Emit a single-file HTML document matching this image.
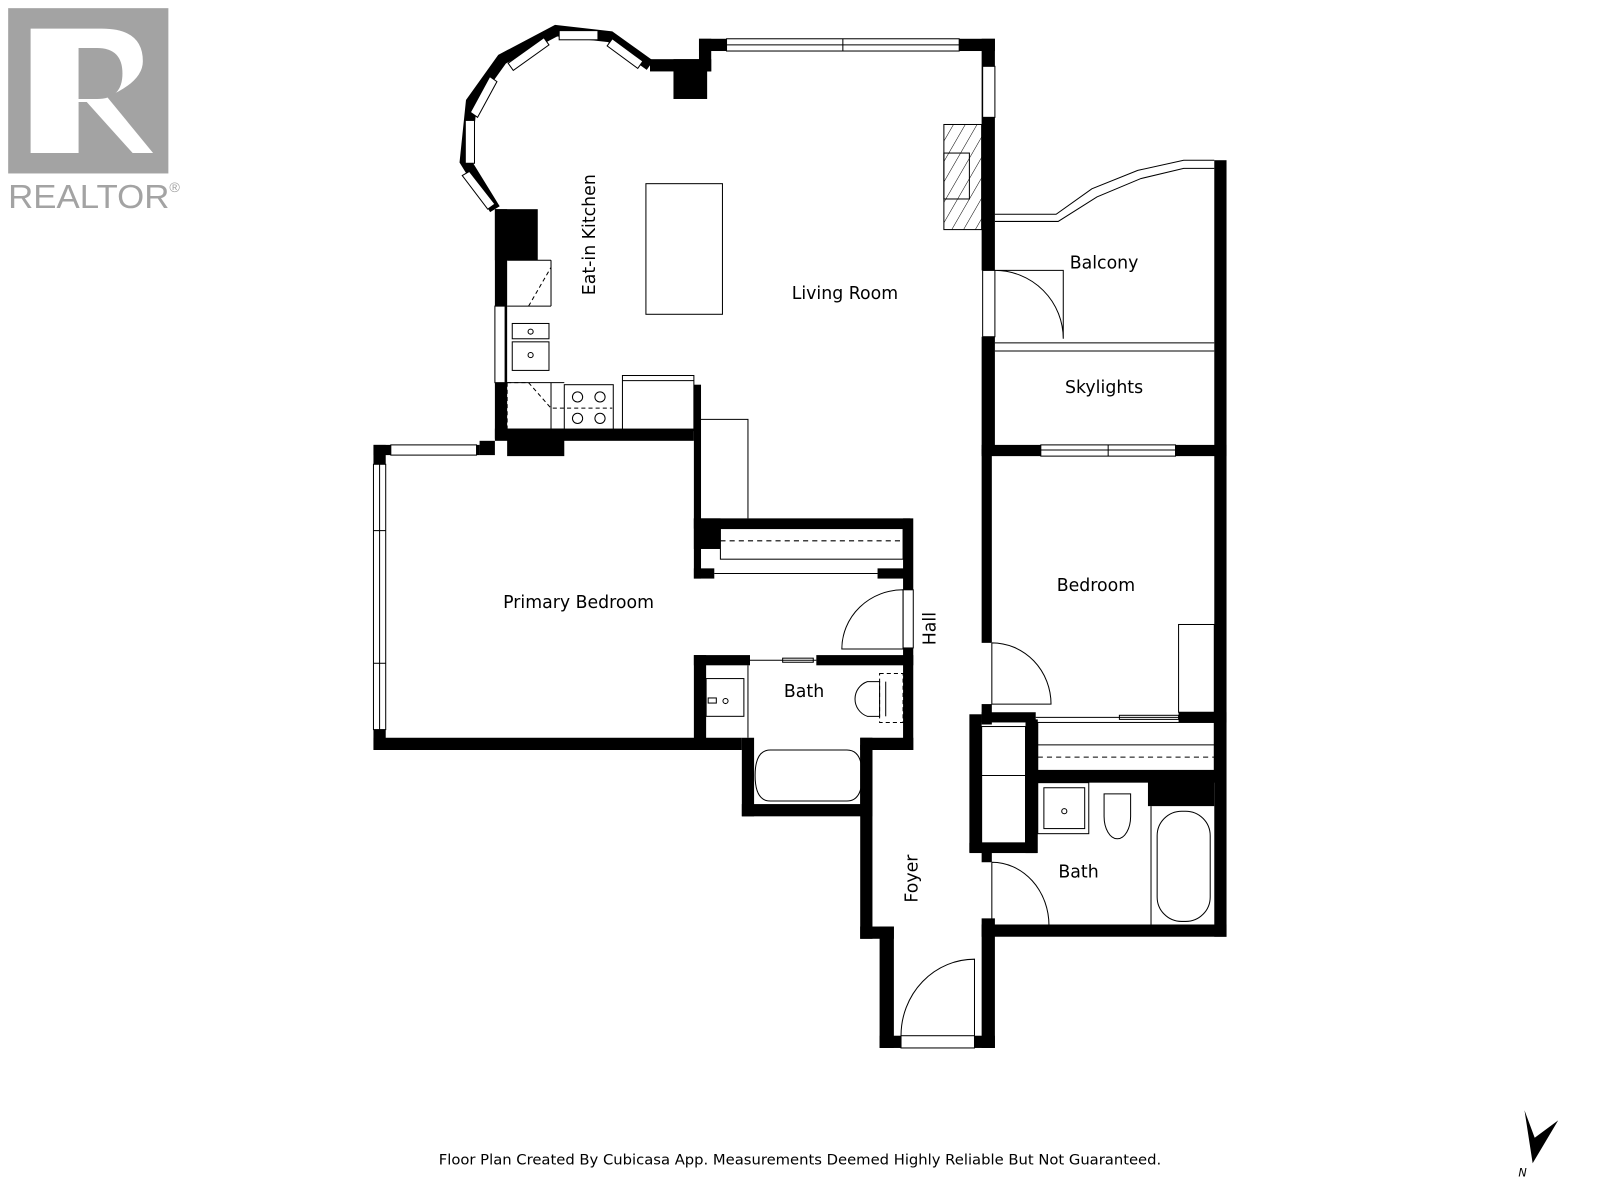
<!DOCTYPE html>
<html><head><meta charset="utf-8"><style>
html,body{margin:0;padding:0;background:#fff;width:1600px;height:1200px;overflow:hidden}
svg{display:block}
text{font-family:"DejaVu Sans","Liberation Sans",sans-serif;fill:#000}
</style></head><body>
<svg width="1600" height="1200" viewBox="0 0 1568 1176" xmlns="http://www.w3.org/2000/svg">
<defs>
<pattern id="h" width="10" height="10" patternUnits="userSpaceOnUse" patternTransform="rotate(30)">
<line x1="0" y1="0" x2="0" y2="10" stroke="#000" stroke-width="1"/></pattern>
</defs>
<rect x="8" y="8" width="157" height="162" fill="#a3a3a3"/>
<path d="M30 28 L30 150 L77 150 L77 100 L85 100 L130 150 L150 150 L105 95 Q140 80 140 60 Q140 28 100 28 Z" fill="#fff"/>
<path d="M77 47 L77 97 L95 97 Q120 97 120 72 Q120 47 95 47 Z" fill="#a3a3a3"/>
<text x="8" y="204" font-size="33" textLength="158" lengthAdjust="spacingAndGlyphs" style="fill:#a3a3a3;font-family:'Liberation Sans',sans-serif">REALTOR</text>
<text x="166" y="188" font-size="14" style="fill:#a3a3a3;font-family:'Liberation Sans',sans-serif">®</text>
<g fill="#000">
<rect x="685" y="38" width="290" height="12"/>
<rect x="685" y="38" width="12" height="32"/>
<rect x="637" y="58" width="60" height="12"/>
<rect x="660" y="58" width="33" height="39"/>
<rect x="962" y="38" width="13" height="227"/>
<rect x="962" y="330" width="13" height="115"/>
<rect x="485" y="205" width="12" height="225"/>
<rect x="485" y="205" width="42" height="50"/>
<rect x="485" y="420" width="195" height="12"/>
<rect x="497" y="420" width="56" height="27"/>
<rect x="680" y="377" width="7" height="190"/>
<rect x="366" y="436" width="12" height="299"/>
<rect x="366" y="436" width="104" height="10"/>
<rect x="470" y="432" width="15" height="14"/>
<rect x="366" y="723" width="361" height="12"/>
<rect x="680" y="508" width="212" height="10"/>
<rect x="680" y="508" width="26" height="30"/>
<rect x="680" y="557" width="20" height="10"/>
<rect x="860" y="557" width="32" height="10"/>
<rect x="885" y="508" width="10" height="70"/>
<rect x="680" y="642" width="12" height="91"/>
<rect x="680" y="642" width="55" height="10"/>
<rect x="800" y="642" width="95" height="10"/>
<rect x="885" y="635" width="10" height="100"/>
<rect x="727" y="723" width="12" height="77"/>
<rect x="727" y="788" width="123" height="12"/>
<rect x="843" y="723" width="52" height="12"/>
<rect x="843" y="723" width="12" height="77"/>
<rect x="843" y="730" width="12" height="190"/>
<rect x="843" y="908" width="33" height="12"/>
<rect x="862" y="908" width="14" height="119"/>
<rect x="862" y="1015" width="21" height="12"/>
<rect x="955" y="1015" width="20" height="12"/>
<rect x="962" y="900" width="13" height="127"/>
<rect x="962" y="440" width="10" height="190"/>
<rect x="962" y="690" width="10" height="20"/>
<rect x="1190" y="157" width="12" height="761"/>
<rect x="962" y="436" width="58" height="11"/>
<rect x="1152" y="436" width="50" height="11"/>
<rect x="962" y="698" width="53" height="10"/>
<rect x="1155" y="698" width="47" height="10"/>
<rect x="950" y="700" width="12" height="135"/>
<rect x="950" y="826" width="66" height="10"/>
<rect x="1005" y="705" width="12" height="131"/>
<rect x="1005" y="755" width="190" height="12"/>
<rect x="1125" y="765" width="65" height="25"/>
<rect x="962" y="835" width="10" height="10"/>
<rect x="962" y="906" width="240" height="12"/>
</g>
<polyline points="637,64 598,36 545,30 492,58 462,100 456,158 485,205" fill="none" stroke="#000" stroke-width="11"/>
<g fill="#fff" stroke="#000" stroke-width="1">
<rect x="548" y="30" width="38" height="9"/>
<polygon points="600,38 630,60 625,67 595,45"/>
<polygon points="498,62 533,37 538,44 503,69"/>
<polygon points="461,110 480,75 487,80 468,115"/>
<rect x="456" y="118" width="9" height="42"/>
<polygon points="460,168 485,200 478,205 453,172"/>
<rect x="712" y="38" width="228" height="12"/><line x1="712" y1="44" x2="940" y2="44"/><line x1="826" y1="38" x2="826" y2="50"/>
<rect x="963" y="65" width="12" height="50"/>
<rect x="485" y="300" width="10" height="75"/>
<rect x="383" y="436" width="84" height="10"/>
<rect x="366" y="455" width="12" height="260"/><line x1="372" y1="455" x2="372" y2="715"/><line x1="366" y1="520" x2="378" y2="520"/><line x1="366" y1="650" x2="378" y2="650"/>
<rect x="1020" y="436" width="132" height="11"/><line x1="1020" y1="441" x2="1152" y2="441"/><line x1="1086" y1="436" x2="1086" y2="447"/>
<rect x="963" y="265" width="12" height="65"/>
<rect x="885" y="578" width="10" height="57"/>
<rect x="883" y="1015" width="72" height="12"/>
</g>
<rect x="925" y="122" width="37" height="103" fill="url(#h)" stroke="#000"/>
<rect x="925" y="150" width="25" height="45" fill="none" stroke="#000"/>
<path d="M975 210 L1035 210 L1070 185 L1115 167 L1160 157 L1190 157 M975 217 L1037 217 L1075 193 L1118 175 L1160 165 L1190 165" fill="none" stroke="#000"/>
<line x1="975" y1="336" x2="1190" y2="336" stroke="#000"/><line x1="975" y1="344" x2="1190" y2="344" stroke="#000"/>
<g fill="none" stroke="#000" stroke-width="1">
<rect x="633" y="180" width="75" height="128"/>
<line x1="497" y1="255" x2="540" y2="255"/><line x1="540" y1="255" x2="540" y2="300"/><line x1="497" y1="300" x2="540" y2="300"/>
<path d="M518 300 L540 262" stroke-dasharray="4,3"/>
<rect x="502" y="317" width="36" height="15"/><rect x="502" y="335" width="36" height="28"/>
<circle cx="520" cy="325" r="2.5"/><circle cx="520" cy="348" r="2.5"/>
<path d="M497 375 L518 375 L540 400 L600 400" stroke-dasharray="4,3"/>
<line x1="497" y1="375" x2="497" y2="420" stroke-dasharray="4,3"/>
<line x1="540" y1="375" x2="540" y2="420"/><line x1="497" y1="375" x2="553" y2="375"/>
<rect x="553" y="377" width="48" height="45"/>
<circle cx="566" cy="389" r="5"/><circle cx="588" cy="389" r="5"/><circle cx="566" cy="410" r="5"/><circle cx="588" cy="410" r="5"/>
<rect x="610" y="368" width="70" height="54"/><line x1="610" y1="373" x2="680" y2="373"/>
<path d="M687 411 L733 411 L733 508"/>
<rect x="706" y="518" width="179" height="30"/><line x1="706" y1="530" x2="885" y2="530" stroke-dasharray="5,4"/>
<line x1="700" y1="562" x2="860" y2="562"/>
<path d="M885 578 L885 636 L825 636 A60 58 0 0 1 885 578"/>
<path d="M975 265 L1042 265 L1042 332 A67 67 0 0 0 975 265"/>
<path d="M972 630 L972 690 L1030 690 A58 60 0 0 0 972 630"/>
<path d="M972 845 L972 907 L1028 907 A56 62 0 0 0 972 845"/>
<path d="M955 1015 L955 940 A72 75 0 0 0 883 1015"/>
<line x1="735" y1="647" x2="800" y2="647"/><rect x="767" y="645" width="30" height="4"/>
<line x1="1015" y1="703" x2="1155" y2="703"/><rect x="1097" y="701" width="58" height="4"/>
<line x1="733" y1="652" x2="733" y2="723"/>
<rect x="692" y="665" width="37" height="37"/><circle cx="711" cy="687" r="2.5"/><rect x="694" y="684" width="8" height="5"/>
<path d="M862 668 L850 668 A18 18 0 0 0 850 702 L862 702 Z"/>
<rect x="862" y="660" width="23" height="48" stroke-dasharray="4,3"/><line x1="868" y1="668" x2="868" y2="702"/>
<path d="M755 735 L830 735 Q845 735 845 760 Q845 785 830 785 L755 785 Q740 785 740 760 Q740 735 755 735 Z"/>
<rect x="1155" y="612" width="35" height="86"/>
<rect x="1017" y="708" width="173" height="47"/><line x1="1017" y1="730" x2="1190" y2="730"/><line x1="1017" y1="742" x2="1190" y2="742" stroke-dasharray="5,4"/>
<rect x="962" y="712" width="43" height="114"/><line x1="962" y1="760" x2="1005" y2="760"/>
<rect x="1017" y="767" width="50" height="50"/><rect x="1023" y="772" width="40" height="40"/><circle cx="1043" cy="795" r="2.5"/>
<path d="M1082 778 L1108 778 L1108 800 A13 22 0 0 1 1082 800 Z"/>
<line x1="1128" y1="790" x2="1128" y2="906"/>
<rect x="1134" y="795" width="52" height="108" rx="24"/>
</g>
<text x="583" y="230" font-size="17" text-anchor="middle" transform="rotate(-90 583 230)">Eat-in Kitchen</text>
<text x="828" y="293" font-size="17" text-anchor="middle">Living Room</text>
<text x="1082" y="263" font-size="17" text-anchor="middle">Balcony</text>
<text x="1082" y="385" font-size="17" text-anchor="middle">Skylights</text>
<text x="567" y="596" font-size="17" text-anchor="middle">Primary Bedroom</text>
<text x="1074" y="579" font-size="17" text-anchor="middle">Bedroom</text>
<text x="788" y="683" font-size="17" text-anchor="middle">Bath</text>
<text x="1057" y="860" font-size="17" text-anchor="middle">Bath</text>
<text x="917" y="616" font-size="17" text-anchor="middle" transform="rotate(-90 917 616)">Hall</text>
<text x="899" y="861" font-size="17" text-anchor="middle" transform="rotate(-90 899 861)">Foyer</text>
<text x="430" y="1141" font-size="14" textLength="708" lengthAdjust="spacingAndGlyphs">Floor Plan Created By Cubicasa App. Measurements Deemed Highly Reliable But Not Guaranteed.</text>
<polygon points="1494,1088 1504,1115 1527,1098 1502,1140" fill="#000"/>
<text x="1488" y="1153" font-size="11" font-style="italic">N</text>
</svg>
</body></html>
